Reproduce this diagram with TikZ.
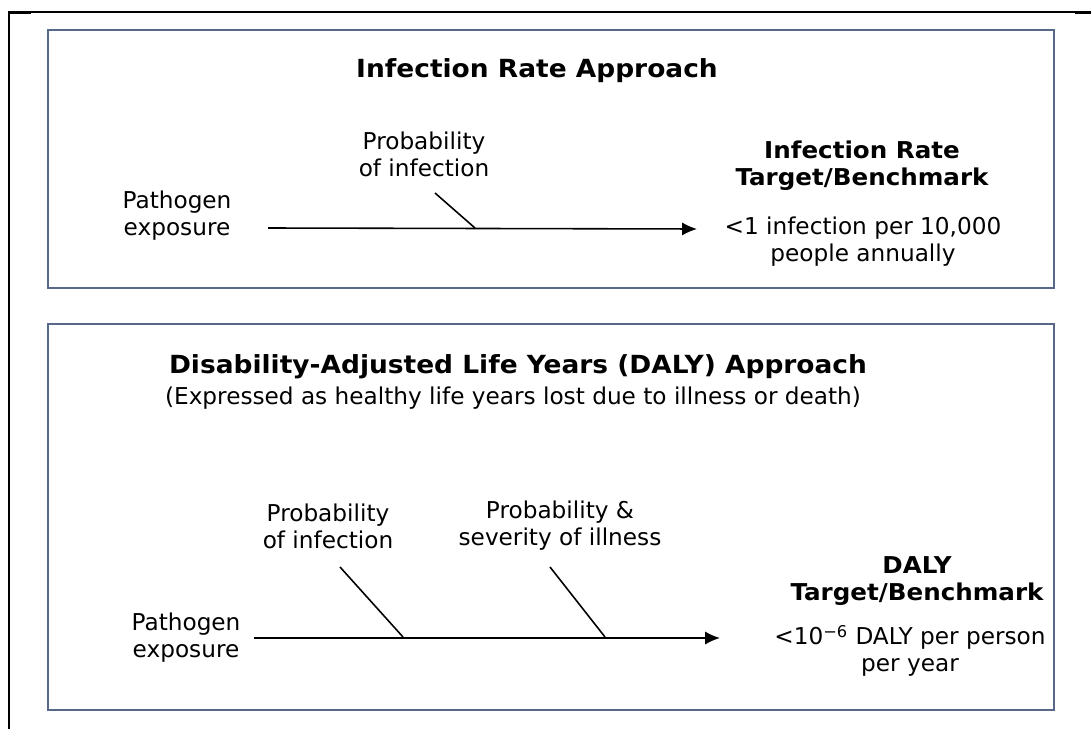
\documentclass[tikz,border=0pt]{standalone}
\usepackage{fontspec}
\setmainfont{DejaVu Sans}[BoldFeatures={FakeStretch=1.06}]
\usetikzlibrary{arrows.meta}
\definecolor{panelblue}{RGB}{88,104,136}

\begin{document}
\begin{tikzpicture}[
		x=0.02cm, y=-0.02cm,
		>={Latex[length=8.5pt,width=7.5pt]},
		every node/.style={font=\fontsize{13.2}{15.4}\selectfont, align=center, inner sep=0pt},
		panel/.style={draw=panelblue, line width=1.2pt},
		heading/.style={font=\fontsize{13.2}{15.4}\selectfont\bfseries},
		bigheading/.style={font=\fontsize{14.2}{16.5}\selectfont\bfseries},
		branch/.style={line width=0.9pt}
	]
	\useasboundingbox (0,0) rectangle (1091,729);
	
	% page frame
	\draw[line width=1.1pt] (8,12) -- (1091,12);
	\draw[line width=1.1pt] (9,12) -- (9,729);
	\draw[line width=1.6pt] (8,12.5) -- (31,12.5);
	\draw[line width=1.6pt] (1075,12.5) -- (1091,12.5);
	
	% infection rate panel
	\draw[panel] (48,30) rectangle (1054,288);
	\node[bigheading] (title1) at (537,71) {Infection Rate Approach};
	\node (prob1) at (424,154) {Probability\\of infection};
	\node (expo1) at (177,216) {Pathogen\\exposure};
	\node[heading] (target1) at (862,166) {Infection Rate\\Target/Benchmark};
	\node (bench1) at (863,242) {<1 infection per 10,000\\people annually};
	\coordinate (start1) at (268,228);
	\coordinate (tip1) at (697,229);
	\coordinate (top1) at (435,193);
	\coordinate (join1) at (475,228);
	\draw[->, branch] (start1) -- (tip1);
	\draw[branch] (top1) -- (join1);
	
	% DALY panel
	\draw[panel] (48,324) rectangle (1054,710);
	\node[bigheading] (title2) at (518,367) {Disability-Adjusted Life Years (DALY) Approach};
	\node (sub2) at (513,398) {(Expressed as healthy life years lost due to illness or death)};
	\node (prob2) at (328,526) {Probability\\of infection};
	\node (sever2) at (560,526) {Probability \&\\severity of illness};
	\node (expo2) at (186,638) {Pathogen\\exposure};
	\node[heading] (target2) at (917,581) {DALY\\Target/Benchmark};
	\node (bench2) at (910,651) {<10\textsuperscript{−6} DALY per person\\per year};
	\coordinate (start2) at (254,638);
	\coordinate (tip2) at (720,638);
	\coordinate (top2a) at (340,567);
	\coordinate (join2a) at (403,637);
	\coordinate (top2b) at (550,567);
	\coordinate (join2b) at (605,637);
	\draw[->, branch] (start2) -- (tip2);
	\draw[branch] (top2a) -- (join2a);
	\draw[branch] (top2b) -- (join2b);
\end{tikzpicture}
\end{document}
